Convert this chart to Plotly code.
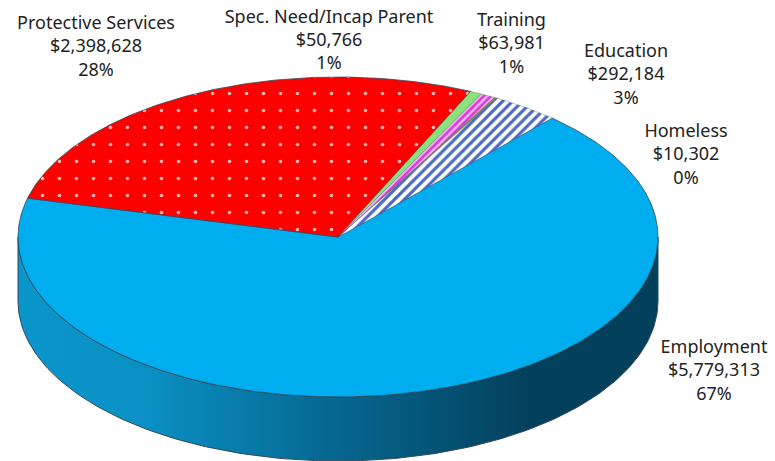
import numpy as np
import plotly.graph_objects as go

categories = ["Employment", "Protective Services", "Spec. Need/Incap Parent", "Training", "Homeless", "Education"]
amounts = [5779313, 2398628, 50766, 63981, 10302, 292184]
start_angle_deg = 42.0
face_colors = ["#00AEEF", "#FF0000", "#8CE27A", "#F08CF0", "#8A8A30", "#FFFFFF"]
label_x = [714, 96, 329, 511.5, 686, 626]
label_y = [372, 48, 41.5, 45, 156, 76]

CX, CY, A, B, DEPTH = 338, 237, 320, 160, 64
WIDTH, HEIGHT = 775, 461
EDGE = "#33475B"

total = sum(amounts)
patterns = {
    "Protective Services": dict(shape=".", size=17, solidity=0.035, fgcolor="#FFB4B4", bgcolor="#FF0000", fillmode="replace"),
    "Training": dict(shape="/", size=5, solidity=0.5, fgcolor="#D838D8", bgcolor="#F6B4F6", fillmode="replace"),
    "Education": dict(shape="/", size=7, solidity=0.45, fgcolor="#4A68C4", bgcolor="#FFFFFF", fillmode="replace"),
}


def pt(theta, dy=0.0):
    return CX + A * np.sin(theta), CY - B * np.cos(theta) + dy


fig = go.Figure()

# Wall: the lower half of the ellipse, extruded downward
t = np.linspace(np.pi / 2, 3 * np.pi / 2, 181)
xt, yt = pt(t)
xb, yb = pt(t[::-1], DEPTH)
fig.add_trace(go.Scatter(
    x=np.r_[xt, xb, xt[0]], y=np.r_[yt, yb, yt[0]], mode="lines", fill="toself",
    line=dict(color=EDGE, width=1),
    fillgradient=dict(type="horizontal", colorscale=[
        [0, "#0A96CC"], [0.2, "#0A90C4"], [0.5, "#06668F"], [0.8, "#03405C"], [1, "#03405C"]]),
    hoverinfo="skip", showlegend=False))

# Top face: one sector per category, angles derived from the amounts
edges = np.deg2rad(start_angle_deg) + np.r_[0, np.cumsum(amounts)] / total * 2 * np.pi
for i, name in enumerate(categories):
    n = max(3, int((edges[i + 1] - edges[i]) * 90))
    th = np.linspace(edges[i], edges[i + 1], n)
    x, y = pt(th)
    kw = dict(fillpattern=patterns[name]) if name in patterns else {}
    thin = name in ("Spec. Need/Incap Parent", "Training", "Homeless", "Education")
    fig.add_trace(go.Scatter(
        x=np.r_[CX, x, CX], y=np.r_[CY, y, CY], mode="lines", fill="toself",
        fillcolor=face_colors[i],
        line=dict(color=EDGE, width=0.3 if thin else 0.8),
        hoverinfo="text", text=name, showlegend=False, **kw))

labels = [f"{c}<br>${v:,}<br>{round(v / total * 100)}%" for c, v in zip(categories, amounts)]
fig.add_trace(go.Scatter(
    x=label_x, y=label_y, mode="text", text=labels, textposition="middle center",
    textfont=dict(family="Noto Sans, Tahoma, sans-serif", size=18, color="#222222"),
    hoverinfo="skip", showlegend=False, cliponaxis=False))

fig.update_layout(
    width=WIDTH, height=HEIGHT, margin=dict(l=0, r=0, t=0, b=0),
    paper_bgcolor="white", plot_bgcolor="white",
    xaxis=dict(range=[0, WIDTH], visible=False, fixedrange=True),
    yaxis=dict(range=[HEIGHT, 0], visible=False, fixedrange=True),
)
fig.write_html("out.html", config={"displayModeBar": False},
               post_script="document.body.style.margin='0';document.body.style.overflow='hidden';")
